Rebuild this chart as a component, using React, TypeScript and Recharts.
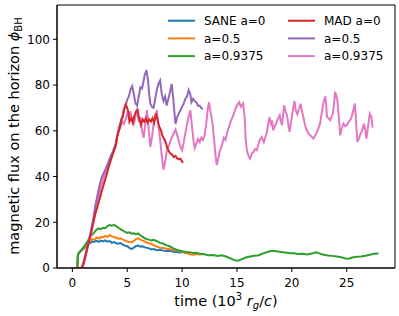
import { LineChart, Line, XAxis, YAxis, ReferenceArea, Label } from 'recharts';

const FONT = '"DejaVu Sans", sans-serif';

// time in 10^3 r_g/c, flux phi_BH
const saneA0: [number, number][] = [
  [0, 0], [0.45, 0], [0.5, 5.5], [0.6, 6.5], [0.8, 7.5], [1.0, 8.3], [1.2, 9.2], [1.4, 10.2], [1.6, 10.8],
  [1.8, 11.6], [2.0, 11.5], [2.2, 11.9], [2.4, 11.4], [2.6, 12.0], [2.8, 11.6], [3.0, 12.1], [3.2, 11.5],
  [3.4, 11.8], [3.6, 11.0], [3.8, 11.3], [4.0, 10.8], [4.2, 10.6], [4.4, 10.9], [4.6, 10.2], [4.8, 9.8],
  [5.0, 9.5], [5.2, 8.8], [5.4, 8.3], [5.6, 8.9], [5.8, 9.6], [6.0, 9.8], [6.2, 9.3], [6.4, 9.5], [6.6, 9.0],
  [6.8, 8.8], [7.0, 8.6], [7.2, 8.1], [7.4, 8.3], [7.6, 8.0], [7.8, 7.8], [8.0, 8.0], [8.3, 7.6], [8.6, 7.4],
  [8.9, 7.5], [9.2, 7.1], [9.5, 7.0], [9.8, 6.8], [10.1, 7.0], [10.3, 6.6], [10.5, 6.9],
];

const saneA05: [number, number][] = [
  [0, 0], [0.45, 0], [0.5, 5.5], [0.6, 6.5], [0.8, 7.6], [1.0, 8.6], [1.2, 9.8], [1.4, 11.0], [1.6, 11.8],
  [1.8, 12.6], [2.0, 12.4], [2.2, 13.3], [2.4, 12.9], [2.6, 13.6], [2.8, 13.4], [3.0, 14.0], [3.2, 13.6],
  [3.4, 14.4], [3.6, 13.8], [3.8, 13.5], [4.0, 13.2], [4.2, 12.8], [4.4, 13.0], [4.6, 12.4], [4.8, 12.0],
  [5.0, 11.6], [5.2, 11.4], [5.4, 11.2], [5.6, 11.9], [5.8, 12.6], [6.0, 13.0], [6.2, 12.4], [6.4, 12.0],
  [6.6, 11.6], [6.8, 11.0], [7.0, 10.8], [7.2, 10.5], [7.4, 10.0], [7.6, 9.5], [7.8, 9.2], [8.0, 8.8],
  [8.3, 8.7], [8.6, 8.4], [8.9, 8.2], [9.2, 7.9], [9.5, 7.6], [9.8, 7.4], [10.1, 7.0], [10.4, 6.5],
  [10.7, 6.0], [11.0, 5.8], [11.3, 6.1], [11.6, 5.9], [12.0, 6.1],
];

const saneA09: [number, number][] = [
  [0, 0], [0.45, 0], [0.5, 5.5], [0.6, 6.8], [0.8, 7.8], [1.0, 9.0], [1.2, 10.4], [1.4, 11.8], [1.6, 13.5],
  [1.8, 14.6], [2.0, 15.6], [2.2, 16.8], [2.4, 17.3], [2.6, 17.0], [2.8, 17.6], [3.0, 17.4], [3.2, 18.3],
  [3.4, 18.8], [3.6, 18.5], [3.8, 18.9], [4.0, 18.2], [4.2, 17.6], [4.4, 16.9], [4.6, 16.4], [4.8, 15.8],
  [5.0, 15.3], [5.2, 15.6], [5.4, 15.0], [5.6, 15.2], [5.8, 14.8], [6.0, 15.1], [6.2, 14.2], [6.4, 13.6],
  [6.6, 13.0], [6.8, 12.6], [7.0, 12.4], [7.2, 12.0], [7.4, 12.3], [7.6, 11.9], [7.8, 11.5], [8.0, 11.0],
  [8.3, 10.6], [8.6, 9.9], [8.9, 9.4], [9.2, 8.6], [9.5, 8.0], [9.8, 7.6], [10.1, 7.2], [10.4, 7.0],
  [10.7, 6.9], [11.0, 6.6], [11.3, 6.7], [11.6, 6.2], [12.0, 6.0], [12.4, 5.6], [12.8, 5.7], [13.2, 5.3],
  [13.6, 5.6], [14.0, 5.0], [14.4, 4.2], [14.8, 3.4], [15.1, 3.2], [15.4, 3.8], [15.8, 4.6], [16.2, 5.0],
  [16.6, 5.4], [17.0, 5.6], [17.4, 6.4], [17.8, 7.1], [18.2, 7.5], [18.6, 7.3], [19.0, 7.0], [19.4, 6.8],
  [19.8, 6.5], [20.2, 6.4], [20.6, 6.1], [21.0, 6.2], [21.4, 5.9], [21.8, 6.3], [22.2, 6.9], [22.5, 6.4],
  [22.9, 5.8], [23.3, 5.5], [23.7, 5.3], [24.1, 5.0], [24.5, 4.7], [24.9, 4.2], [25.2, 4.1], [25.5, 4.6],
  [25.9, 4.9], [26.3, 5.0], [26.7, 5.4], [27.1, 5.8], [27.5, 6.2], [27.9, 6.3],
];

const madA0: [number, number][] = [
  [0, 0], [0.75, 0], [0.9, 0.5], [1.1, 3.5], [1.3, 7.5], [1.5, 11.5], [1.7, 15.5], [1.9, 19.8], [2.1, 23.8],
  [2.3, 27.0], [2.5, 30.5], [2.7, 34.0], [2.9, 37.2], [3.1, 40.5], [3.3, 44.0], [3.5, 47.0], [3.7, 50.0],
  [3.9, 52.5], [4.0, 54.5], [4.1, 57.5], [4.2, 59.5], [4.3, 61.0], [4.4, 63.0], [4.5, 65.5], [4.6, 66.0],
  [4.7, 69.0], [4.85, 71.5], [5.0, 70.0], [5.1, 68.0], [5.2, 64.0], [5.35, 65.5], [5.5, 63.5], [5.65, 66.5],
  [5.8, 68.5], [5.95, 69.0], [6.1, 65.0], [6.25, 62.5], [6.4, 65.0], [6.55, 64.0], [6.7, 65.5], [6.85, 63.5],
  [7.0, 65.0], [7.15, 64.0], [7.3, 65.5], [7.45, 63.5], [7.6, 67.5], [7.75, 65.0], [7.9, 62.0], [8.05, 60.5],
  [8.2, 58.0], [8.35, 56.5], [8.5, 55.0], [8.65, 52.5], [8.8, 51.0], [8.95, 50.0], [9.1, 49.5], [9.25, 48.5],
  [9.4, 49.0], [9.55, 48.0], [9.7, 47.5], [9.85, 47.8], [10.0, 46.5], [10.1, 46.0],
];

const madA05: [number, number][] = [
  [0, 0], [0.8, 0], [0.95, 1], [1.1, 4], [1.3, 8], [1.5, 12], [1.7, 16.5], [1.9, 21.5], [2.1, 27.5], [2.3, 32],
  [2.5, 36.5], [2.7, 40], [2.9, 42], [3.1, 44], [3.3, 46.5], [3.5, 49], [3.7, 51], [3.9, 53.5], [4.1, 58],
  [4.25, 61.5], [4.4, 64], [4.55, 66], [4.7, 69.5], [4.85, 71], [5.0, 73.5], [5.15, 75], [5.3, 78],
  [5.45, 79.5], [5.6, 76], [5.75, 72], [5.9, 71], [6.05, 75], [6.2, 79], [6.35, 78.5], [6.5, 82], [6.6, 84.5],
  [6.75, 86.5], [6.9, 82], [7.0, 76], [7.1, 72], [7.25, 70.5], [7.4, 70], [7.55, 74], [7.7, 78], [7.85, 80.5],
  [8.0, 82], [8.15, 76], [8.3, 73], [8.45, 75], [8.6, 71], [8.75, 74], [8.9, 77], [9.05, 80.5], [9.2, 74],
  [9.3, 68], [9.4, 63], [9.55, 66], [9.7, 67.5], [9.85, 69], [10.0, 70.5], [10.15, 72], [10.3, 74],
  [10.45, 75], [10.6, 77.8], [10.75, 76], [10.85, 72.5], [11.0, 74], [11.15, 73], [11.3, 72.5], [11.45, 71],
  [11.6, 71], [11.75, 70], [11.9, 69.5],
];

const madA09: [number, number][] = [
  [0, 0], [0.85, 0], [1.0, 1], [1.15, 4], [1.35, 8], [1.55, 12], [1.75, 16], [1.95, 20.5], [2.15, 25.5],
  [2.35, 30], [2.55, 34.5], [2.75, 38], [2.95, 41], [3.15, 43.5], [3.35, 46], [3.55, 49], [3.75, 51.5],
  [3.95, 54], [4.1, 58.5], [4.25, 60], [4.4, 62], [4.55, 64], [4.7, 63], [4.85, 65], [5.0, 67.5], [5.15, 66],
  [5.3, 68.5], [5.45, 65], [5.6, 63], [5.75, 66], [5.9, 70], [6.05, 64], [6.2, 66], [6.35, 60], [6.5, 57],
  [6.65, 63], [6.8, 69], [6.95, 61], [7.1, 53], [7.25, 57], [7.4, 63], [7.55, 66], [7.7, 69], [7.85, 62],
  [8.0, 56], [8.15, 49], [8.3, 43], [8.45, 46], [8.6, 51], [8.75, 53], [8.9, 55], [9.05, 57], [9.2, 58.5],
  [9.4, 60.5], [9.55, 58], [9.7, 55.5], [9.85, 53], [10.0, 51.5], [10.15, 55], [10.3, 59], [10.45, 63],
  [10.6, 66], [10.75, 69], [10.9, 62], [11.05, 55], [11.15, 52.5], [11.3, 54.5], [11.45, 56.5], [11.6, 55],
  [11.75, 57], [11.9, 56], [12.05, 58], [12.2, 63], [12.35, 70], [12.45, 72.5], [12.6, 68], [12.75, 64],
  [12.9, 57], [13.05, 49], [13.15, 45], [13.3, 48], [13.45, 51.5], [13.6, 53], [13.8, 57], [13.95, 56],
  [14.15, 60], [14.3, 62], [14.45, 64.5], [14.6, 66], [14.75, 68], [14.9, 70], [15.05, 71.5], [15.2, 72.5],
  [15.35, 70.5], [15.55, 72], [15.7, 66], [15.8, 56], [15.9, 51.5], [16.05, 49], [16.2, 47.8], [16.35, 50],
  [16.5, 50.7], [16.65, 52], [16.8, 51.5], [16.95, 54], [17.05, 55.8], [17.25, 57.3], [17.45, 55],
  [17.6, 57.5], [17.7, 58.8], [17.85, 63], [17.96, 66], [18.1, 63], [18.2, 64.6], [18.3, 60.2], [18.45, 62],
  [18.55, 63], [18.7, 65], [18.9, 66.8], [19.0, 64], [19.1, 62.4], [19.2, 67], [19.3, 71.1], [19.45, 68],
  [19.56, 66.8], [19.7, 62], [19.8, 59.5], [19.9, 63], [20.0, 66], [20.12, 70], [20.24, 73], [20.35, 69],
  [20.5, 67.3], [20.65, 69.5], [20.8, 71.9], [20.95, 68], [21.05, 66], [21.2, 62.5], [21.36, 60.2],
  [21.5, 59], [21.67, 58], [21.8, 57.5], [21.97, 56.6], [22.15, 58], [22.3, 59.5], [22.45, 61.5],
  [22.57, 63.1], [22.7, 67], [22.87, 71.9], [22.97, 74], [23.06, 75.1], [23.15, 70], [23.2, 66],
  [23.35, 65.5], [23.48, 64.6], [23.6, 66], [23.73, 67.3], [23.85, 72], [23.94, 77], [24.05, 75.5],
  [24.15, 73.3], [24.3, 65], [24.4, 58], [24.55, 61], [24.7, 63.1], [24.85, 62], [25.0, 62.4], [25.2, 64],
  [25.4, 65.3], [25.55, 68], [25.75, 71.9], [25.85, 64], [25.97, 55.1], [26.1, 56.5], [26.2, 58], [26.4, 60],
  [26.57, 63.1], [26.7, 60], [26.8, 56.6], [26.95, 62], [27.1, 67.5], [27.25, 66], [27.36, 61.4],
];

const X_TICKS = [0, 5, 10, 15, 20, 25];
const Y_TICKS = [0, 20, 40, 60, 80, 100];
const X_DOMAIN: [number, number] = [-1.4, 29.4];
const Y_DOMAIN: [number, number] = [0, 115];

const SERIES = [
  { key: 'sane0', name: 'SANE a=0', color: '#1f77b4', points: saneA0 },
  { key: 'sane05', name: 'a=0.5', color: '#ff7f0e', points: saneA05 },
  { key: 'sane09', name: 'a=0.9375', color: '#2ca02c', points: saneA09 },
  { key: 'mad0', name: 'MAD a=0', color: '#d62728', points: madA0 },
  { key: 'mad05', name: 'a=0.5', color: '#9467bd', points: madA05 },
  { key: 'mad09', name: 'a=0.9375', color: '#e377c2', points: madA09 },
];

// red sits on top of the other MAD runs in the original
const DRAW_ORDER = ['sane0', 'sane05', 'sane09', 'mad09', 'mad05', 'mad0'];

const LINE_W = 2;

const toPts = (arr: [number, number][]) => arr.map(([t, v]) => ({ t, v }));

const tickStyle = { fontSize: 12, fill: '#000', fontFamily: FONT };

function Titles() {
  return (
    <g fontFamily={FONT} fill="#000">
      <text x={226} y={306} fontSize={14.5} textAnchor="middle">
        time (10<tspan dy={-6} fontSize={10}>3</tspan>
        <tspan dy={6}> </tspan>
        <tspan fontStyle="italic">r</tspan>
        <tspan dy={3} fontSize={10} fontStyle="italic">g</tspan>
        <tspan dy={-3}>/</tspan>
        <tspan fontStyle="italic">c</tspan>)
      </text>
      <text transform="translate(19,136) rotate(-90)" fontSize={14.5} textAnchor="middle">
        magnetic flux on the horizon <tspan fontStyle="italic">ϕ</tspan>
        <tspan dy={3} fontSize={10}>BH</tspan>
      </text>
      {SERIES.map((s, i) => {
        const col = Math.floor(i / 3);
        const row = i % 3;
        const x0 = col === 0 ? 168 : 288;
        const y = 20.7 + row * 17.7;
        return (
          <g key={s.key}>
            <line x1={x0} x2={x0 + 27} y1={y} y2={y} stroke={s.color} strokeWidth={LINE_W} />
            <text x={x0 + 36} y={y + 4.3} fontSize={12}>{s.name}</text>
          </g>
        );
      })}
    </g>
  );
}

export default function App() {
  return (
    <div style={{ position: 'absolute', left: 0, top: 0, background: '#fff' }}>
      <LineChart width={399} height={316} margin={{ top: 5, right: 4, left: 0, bottom: 0 }}>
        <XAxis
          type="number"
          dataKey="t"
          domain={X_DOMAIN}
          ticks={X_TICKS}
          allowDataOverflow
          height={48}
          tick={tickStyle}
          tickSize={4}
          tickMargin={6}
          stroke="#000"
        >
          <Label content={() => <Titles />} />
        </XAxis>
        <YAxis
          type="number"
          domain={Y_DOMAIN}
          ticks={Y_TICKS}
          allowDataOverflow
          width={57}
          tick={tickStyle}
          tickSize={4}
          tickMargin={3}
          stroke="#000"
        />
        <ReferenceArea
          x1={X_DOMAIN[0]}
          x2={X_DOMAIN[1]}
          y1={Y_DOMAIN[0]}
          y2={Y_DOMAIN[1]}
          fill="none"
          stroke="#000"
          strokeWidth={1}
          ifOverflow="visible"
        />
        {DRAW_ORDER.map((k) => {
          const s = SERIES.find((x) => x.key === k)!;
          return (
            <Line
              key={s.key}
              data={toPts(s.points)}
              dataKey="v"
              type="linear"
              stroke={s.color}
              strokeWidth={LINE_W}
              dot={false}
              isAnimationActive={false}
            />
          );
        })}
      </LineChart>
    </div>
  );
}
